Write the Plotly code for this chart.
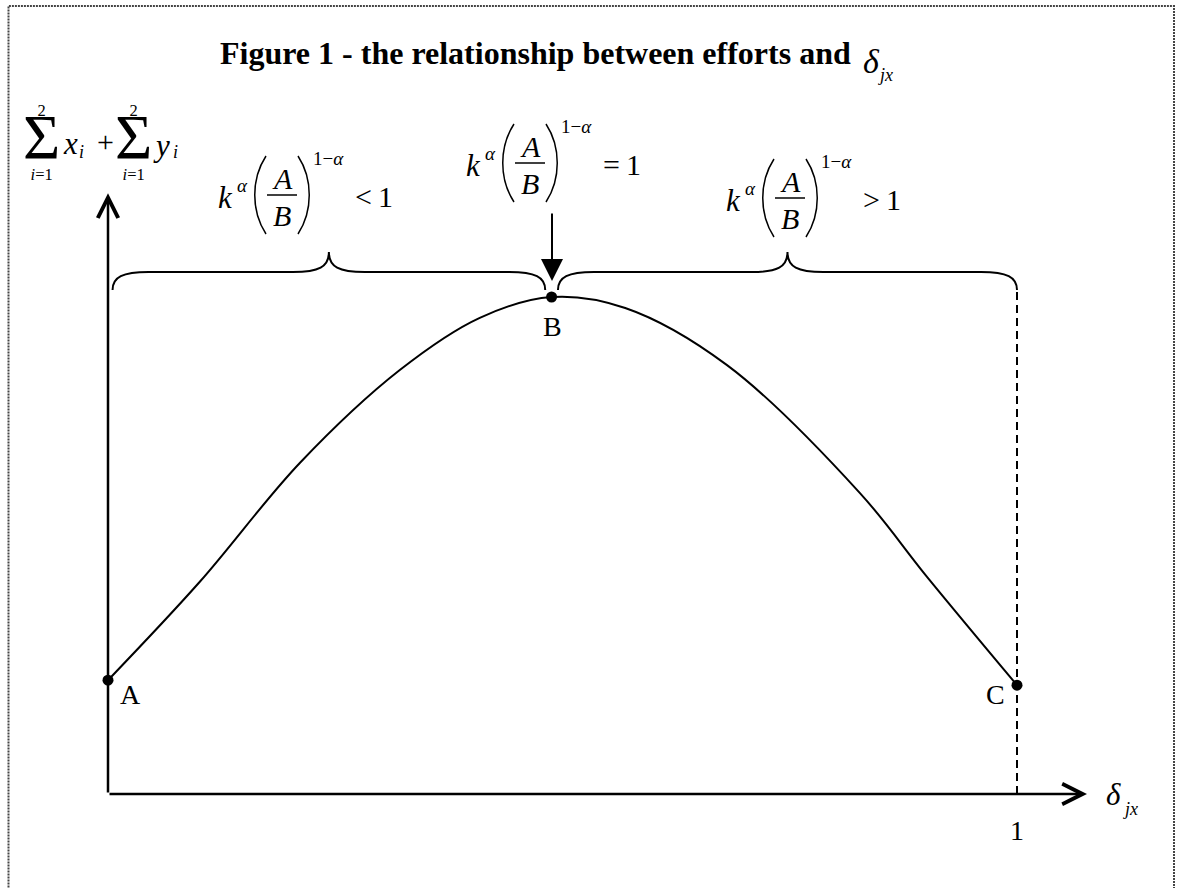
import plotly.graph_objects as go

# total effort (sum x_i + sum y_i) against delta_jx, peak height = 1
curve_x = [0.0, 0.101, 0.211, 0.321, 0.409, 0.488, 0.569, 0.681, 0.827, 0.901, 1.0]
curve_y = [0.229, 0.427, 0.666, 0.853, 0.958, 1.0, 0.978, 0.863, 0.606, 0.437, 0.219]
point_labels = ["A", "B", "C"]
brace_spans = [(0.005, 0.481), (0.495, 1.0)]
region_relations = ["&lt;\u20091", "=\u20091", "&gt;\u20091"]
x_tick_label = "1"
x_axis_end = 1.077
y_axis_end = 1.209

W, H = 1177, 888
X0, X1 = 108, 1017   # pixel columns of x = 0 and x = 1
Y0, Y1 = 794, 297    # pixel rows of y = 0 and y = 1
FONT = "Liberation Serif, Times New Roman, serif"


def dx(p):
    return (p - X0) / (X1 - X0)


def dy(p):
    return (Y0 - p) / (Y0 - Y1)


annotations = []
shapes = []


def text(px, py, s, size=28, xanchor="center", yanchor="middle"):
    annotations.append(dict(
        x=dx(px), y=dy(py), xref="x", yref="y", text=s, showarrow=False,
        xanchor=xanchor, yanchor=yanchor, align="center",
        font=dict(family=FONT, size=size, color="black"),
    ))


def arrow(x0, y0, x1, y1, head, width, size):
    annotations.append(dict(
        x=x1, y=y1, ax=x0, ay=y0, xref="x", yref="y", axref="x", ayref="y",
        text="", showarrow=True, arrowhead=head, arrowwidth=width,
        arrowsize=size, arrowcolor="black",
    ))


def kab_label(cx, cy, rel):
    """k^a (A/B)^(1-a) <rel> built from pieces around the fraction bar centre."""
    text(cx - 57, cy + 2, "<i>k</i>", 31)
    text(cx - 40, cy - 10, "<i>α</i>", 19)
    text(cx, cy - 17, "<i>A</i>", 30)
    text(cx, cy + 20, "<i>B</i>", 30)
    text(cx + 46, cy - 37, "1−<i>α</i>", 19)
    text(cx + 92, cy + 1, rel, 30)
    line = dict(color="black", width=1.5)
    shapes.append(dict(type="line", xref="x", yref="y", x0=dx(cx - 15), x1=dx(cx + 15),
                       y0=dy(cy), y1=dy(cy), line=line))
    for s in (-1, 1):
        a, c = cx + s * 16, cx + s * 31
        path = (f"M{dx(a)},{dy(cy - 39)} C{dx(c)},{dy(cy - 16)} "
                f"{dx(c)},{dy(cy + 16)} {dx(a)},{dy(cy + 39)}")
        shapes.append(dict(type="path", xref="x", yref="y", path=path, line=line))


def brace(x0, x1):
    xc = (x0 + x1) / 2
    ye, yh, yt = dy(290), dy(272), dy(252)
    r = 36 / (X1 - X0)
    k = 10 / (X1 - X0)
    path = (f"M{x0},{ye} C{x0},{dy(277)} {x0 + k},{yh} {x0 + r},{yh} "
            f"L{xc - r},{yh} C{xc - k},{yh} {xc},{dy(267)} {xc},{yt} "
            f"C{xc},{dy(267)} {xc + k},{yh} {xc + r},{yh} "
            f"L{x1 - r},{yh} C{x1 - k},{yh} {x1},{dy(277)} {x1},{ye}")
    shapes.append(dict(type="path", xref="x", yref="y", path=path,
                       line=dict(color="black", width=2)))


fig = go.Figure()
fig.add_trace(go.Scatter(
    x=curve_x, y=curve_y, mode="lines",
    line=dict(color="black", width=2, shape="spline", smoothing=1.0),
    hoverinfo="skip",
))

peak = curve_y.index(max(curve_y))
pts_x = [curve_x[0], curve_x[peak], curve_x[-1]]
pts_y = [curve_y[0], curve_y[peak], curve_y[-1]]
fig.add_trace(go.Scatter(
    x=pts_x, y=pts_y, mode="markers", marker=dict(color="black", size=11),
    hoverinfo="skip",
))

# dashed drop line at delta_jx = 1
fig.add_trace(go.Scatter(
    x=[curve_x[-1], curve_x[-1]], y=[0, dy(292)], mode="lines",
    line=dict(color="black", width=2, dash="8px,5px"), hoverinfo="skip",
))

# axes with open arrowheads
arrow(0, 0, x_axis_end, 0, 5, 2.5, 1.6)
arrow(0, 0, 0, y_axis_end, 5, 2.5, 1.6)

for a, b in brace_spans:
    brace(a, b)

# point labels and tick
text(130, 694, point_labels[0], 28)
text(552, 326, point_labels[1], 28)
text(995, 694, point_labels[2], 28)
text(1017, 830, x_tick_label, 28)

# x-axis label
text(1113, 794, "<i>δ</i>", 31)
text(1130, 809, "<i>jx</i>", 18)

# y-axis label: sum x_i + sum y_i, limits stacked in one text with the sigma
sigma = "2<br><br><span style='font-size:64px'>Σ</span><br><i>i</i>=1"
for sx in (41, 133):
    text(sx, 99, sigma, 16.5, yanchor="top")
text(70, 143, "<i>x</i>", 31)
text(81, 152, "<i>i</i>", 18)
text(105, 141, "+", 30)
text(161, 145, "<i>y</i>", 31)
text(175, 152, "<i>i</i>", 18)

# region labels above the braces
kab_label(282, 195, region_relations[0])
kab_label(530, 163, region_relations[1])
kab_label(790, 198, region_relations[2])

# arrow pointing at the peak
arrow(dx(552), dy(212), dx(552), dy(281), 2, 2, 2.2)

# title
text(218, 53, "<b>Figure 1 - the relationship between efforts and</b>", 32, "left")
text(871, 61, "<i>δ</i>", 34)
text(885, 75, "<i>jx</i>", 18)

# dotted page frame
shapes.append(dict(type="rect", xref="paper", yref="paper",
                   x0=8.5 / W, x1=1174 / W, y0=-0.05, y1=1 - 6 / H,
                   line=dict(color="#444", width=2, dash="2px,1px")))

fig.update_layout(
    width=W, height=H,
    margin=dict(l=0, r=0, t=0, b=0),
    paper_bgcolor="white", plot_bgcolor="white",
    showlegend=False,
    xaxis=dict(range=[dx(0), dx(W)], visible=False, fixedrange=True),
    yaxis=dict(range=[dy(H), dy(0)], visible=False, fixedrange=True),
    annotations=annotations,
    shapes=shapes,
)

fig.write_html(
    "out.html",
    config={"displayModeBar": False},
    post_script="document.body.style.margin='0';document.body.style.overflow='hidden';",
)
